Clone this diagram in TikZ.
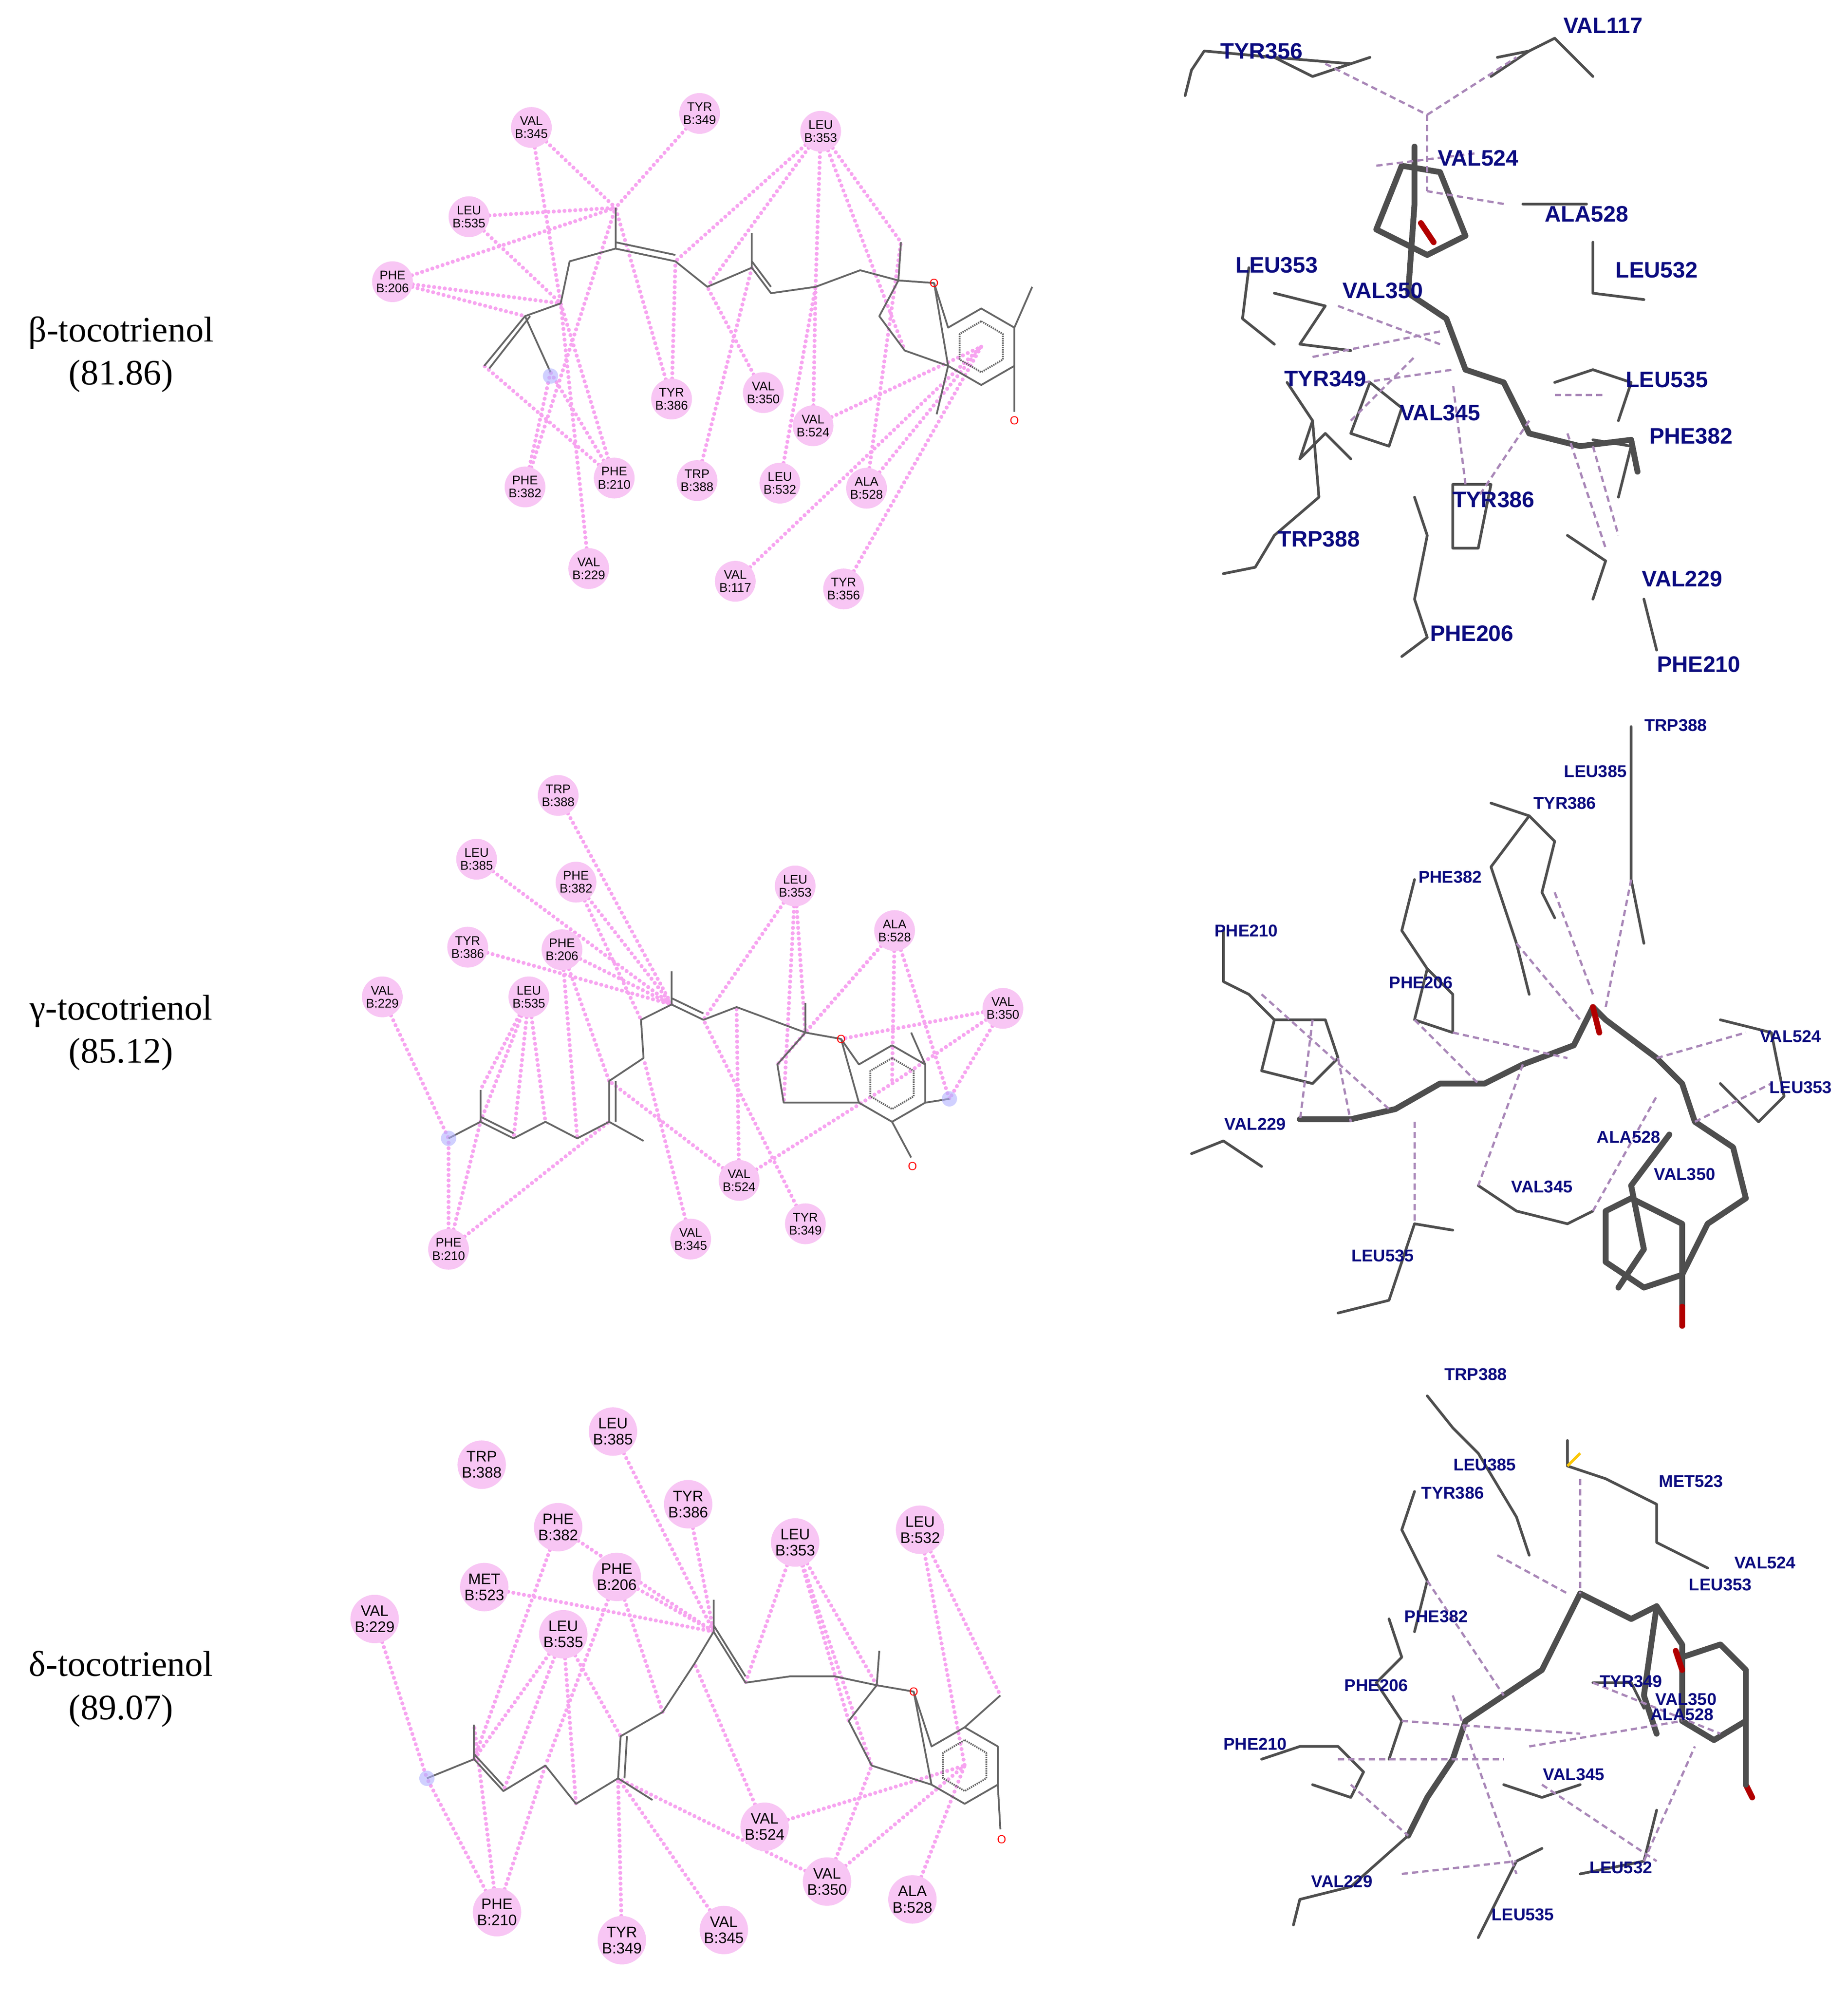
\documentclass[tikz,border=0pt]{standalone}
\usepackage{fontspec}
\usetikzlibrary{backgrounds}
\setmainfont{Liberation Serif}
\setsansfont{Liberation Sans}
\definecolor{rfill}{HTML}{F8C6F4}
\definecolor{rline}{HTML}{F7A4F0}
\definecolor{lblue}{HTML}{0B0B80}
\definecolor{stick}{HTML}{4E4E4E}
\definecolor{dpur}{HTML}{A987B8}
\tikzset{
 res/.style={circle,fill=rfill,inner sep=0pt,minimum size=32mm,align=center,font=\sffamily\fontsize{28}{29}\selectfont},
 resb/.style={res,minimum size=38mm,font=\sffamily\fontsize{34}{36}\selectfont},
 ia/.style={rline,line width=9pt,line cap=round,dash pattern=on 0pt off 12pt},
 lig/.style={gray!80!black,line width=4pt,line join=round},
 blab/.style={lblue,font=\sffamily\bfseries\fontsize{50}{50}\selectfont,inner sep=0pt},
 blabs/.style={lblue,font=\sffamily\bfseries\fontsize{38}{38}\selectfont,inner sep=0pt},
 stk/.style={stick,line width=13pt,line join=round,line cap=round},
 thn/.style={stick,line width=6pt,line join=round,line cap=round},
 dsh/.style={dpur,line width=5pt,dash pattern=on 14pt off 9pt},
 tname/.style={font=\fontsize{80}{96}\selectfont,align=center},
 oxy/.style={red,font=\sffamily\fontsize{26}{26}\selectfont,inner sep=0pt}
}
\newcommand\rsd[4]{\node[res] (#1) at (#2) {#3\\B:#4};}
\newcommand\rsdb[4]{\node[resb] (#1) at (#2) {#3\\B:#4};}
\begin{document}
\begin{tikzpicture}[x=1mm,y=-1mm]
\useasboundingbox (0,0) rectangle (1450,1565);
\begin{pgfonlayer}{background}\fill[white] (0,0) rectangle (1450,1565);\end{pgfonlayer}
% ---------- names ----------
\node[tname] (n1) at (95,278) {β-tocotrienol\\(81.86)};
\node[tname] (n2) at (95,810) {γ-tocotrienol\\(85.12)};
\node[tname] (n3) at (95,1325) {δ-tocotrienol\\(89.07)};

% ---------- panel 1 2D ----------
\foreach \n/\p in {a1/{380,287},a2/{412,248},a3/{432,292},a4/{440,238},a5/{447,205},a6/{483,195},a7/{483,163},a8/{530,205},a9/{555,225},a10/{590,210},a11/{590,183},a12/{605,230},a13/{640,225},a14/{675,212},a15/{705,220},a16/{707,190},a17/{733,222},a18/{690,248},a19/{710,275},a20/{770,272}}
 \coordinate (\n) at (\p);
\draw[lig] (a1)--(a2)--(a4)--(a5)--(a6)--(a8)--(a9)--(a10)--(a12)--(a13)--(a14)--(a15)--(a17);
\draw[lig] (a2)--(a3); \draw[lig] (a6)--(a7); \draw[lig] (a10)--(a11); \draw[lig] (a15)--(a16);
\draw[lig] ([xshift=4mm]a2)--([xshift=4mm,yshift=-2mm]a1);
\draw[lig] ([yshift=5mm]a6)--([yshift=5mm]a8);
\draw[lig] ([yshift=5mm]a10)--([yshift=5mm]a12);
\draw[lig] (a15)--(a18)--(a19)--(744,287);
\draw[lig] (a17)--(744,257)--(770,242)--(796,257)--(796,287)--(770,302)--(744,287)--cycle;
\draw[lig,densely dashed] (770,252)--(787,262)--(787,282)--(770,292)--(753,282)--(753,262)--cycle;
\draw[lig] (796,257)--(810,225); \draw[lig] (744,287)--(735,325); \draw[lig] (796,287)--(796,323);
\node[oxy] at (796,330) {O}; \node[oxy] at (733,222) {O};
\fill[blue!30,opacity=.6] (432,295) circle (6);
\rsd{b345}{417,100}{VAL}{345}\rsd{b349}{549,89}{TYR}{349}\rsd{b353}{644,103}{LEU}{353}
\rsd{b535}{368,170}{LEU}{535}\rsd{b206}{308,221}{PHE}{206}\rsd{b386}{527,313}{TYR}{386}
\rsd{b350}{599,308}{VAL}{350}\rsd{b524}{638,334}{VAL}{524}\rsd{b382}{412,382}{PHE}{382}
\rsd{b210}{482,375}{PHE}{210}\rsd{b388}{547,377}{TRP}{388}\rsd{b532}{612,379}{LEU}{532}
\rsd{b528}{680,383}{ALA}{528}\rsd{b229}{462,446}{VAL}{229}\rsd{b117}{577,456}{VAL}{117}
\rsd{b356}{662,462}{TYR}{356}
\begin{pgfonlayer}{background}
\foreach \r/\t in {b345/a7,b345/a4,b349/a7,b353/a8,b353/a9,b353/a16,b353/a13,b353/a19,b535/a4,b535/a7,b206/a7,b206/a4,b206/a2,b386/a8,b350/a9,b524/a13,b524/a20,b382/a7,b382/a3,b210/a4,b210/a1,b210/a3,b388/a10,b532/a13,b528/a20,b528/a16,b229/a4,b117/a20,b356/a20,b386/a7}
 \draw[ia] (\r)--(\t);
\end{pgfonlayer}

% ---------- panel 2 2D ----------
\foreach \n/\p in {c1/{352,893},c2/{377,880},c3/{377,855},c4/{403,893},c5/{428,880},c6/{453,893},c7/{478,880},c8/{478,848},c9/{505,830},c10/{503,800},c11/{527,788},c12/{527,762},c13/{552,800},c14/{578,790},c15/{632,810},c16/{632,787},c17/{660,815},c18/{610,835},c19/{615,865},c20/{700,850},c21/{745,862}}
 \coordinate (\n) at (\p);
\draw[lig] (c1)--(c2)--(c4)--(c5)--(c6)--(c7)--(c8)--(c9)--(c10)--(c11)--(c13)--(c14)--(c15)--(c17);
\draw[lig] (c2)--(c3); \draw[lig] (c11)--(c12); \draw[lig] (c7)--(505,895);
\draw[lig] ([yshift=4mm]c2)--([yshift=4mm]c4); \draw[lig] ([xshift=5mm]c7)--([xshift=5mm]c8);
\draw[lig] ([yshift=5mm]c11)--([yshift=5mm]c13);
\draw[lig] (c15)--(c18)--(c19)--(674,865);
\draw[lig] (c17)--(674,835)--(700,820)--(726,835)--(726,865)--(700,880)--(674,865)--cycle;
\draw[lig,densely dashed] (700,830)--(717,840)--(717,860)--(700,870)--(683,860)--(683,840)--cycle;
\draw[lig] (c15)--(c16); \draw[lig] (726,835)--(715,810); \draw[lig] (726,865)--(c21); \draw[lig] (700,880)--(715,908);
\node[oxy] at (716,915) {O}; \node[oxy] at (660,815) {O};
\fill[blue!30,opacity=.6] (c21) circle (6); \fill[blue!30,opacity=.6] (c1) circle (6);
\rsd{g388}{438,624}{TRP}{388}\rsd{g385}{374,674}{LEU}{385}\rsd{g382}{452,692}{PHE}{382}
\rsd{g353}{624,695}{LEU}{353}\rsd{g528}{702,730}{ALA}{528}\rsd{g386}{367,743}{TYR}{386}
\rsd{g206}{441,745}{PHE}{206}\rsd{g229}{300,782}{VAL}{229}\rsd{g535}{415,782}{LEU}{535}
\rsd{g350}{787,791}{VAL}{350}\rsd{g524}{580,926}{VAL}{524}\rsd{g349}{632,960}{TYR}{349}
\rsd{g345}{542,972}{VAL}{345}\rsd{g210}{352,980}{PHE}{210}
\begin{pgfonlayer}{background}
\foreach \r/\t in {g388/c11,g385/c11,g382/c11,g382/c10,g386/c11,g206/c11,g206/c6,g206/c8,g229/c1,g535/c2,g535/c4,g535/c5,g353/c15,g353/c13,g353/c19,g528/c20,g528/c15,g528/c18,g528/c21,g350/c20,g350/c17,g350/c21,g524/c8,g524/c14,g524/c20,g349/c13,g345/c9,g210/c1,g210/c2,g210/c7,g535/c3}
 \draw[ia] (\r)--(\t);
\end{pgfonlayer}

% ---------- panel 3 2D ----------
\foreach \n/\p in {d1/{335,1395},d2/{372,1380},d3/{372,1353},d4/{395,1405},d5/{428,1385},d6/{452,1415},d7/{485,1395},d8/{487,1362},d9/{520,1343},d10/{545,1305},d11/{560,1280},d12/{560,1255},d13/{585,1320},d14/{620,1315},d15/{655,1315},d16/{688,1322},d17/{690,1295},d18/{717,1327},d19/{666,1350},d20/{684,1385},d21/{757,1385},d22/{785,1330}}
 \coordinate (\n) at (\p);
\draw[lig] (d1)--(d2)--(d4)--(d5)--(d6)--(d7)--(d8)--(d9)--(d10)--(d11)--(d13)--(d14)--(d15)--(d16)--(d18);
\draw[lig] (d2)--(d3); \draw[lig] (d11)--(d12); \draw[lig] (d7)--(512,1412); \draw[lig] (d16)--(d17);
\draw[lig] ([yshift=4mm]d2)--([yshift=4mm]d4); \draw[lig] ([xshift=5mm]d7)--([xshift=5mm]d8);
\draw[lig] ([yshift=5mm]d11)--([yshift=5mm]d13);
\draw[lig] (d16)--(d19)--(d20)--(731,1400);
\draw[lig] (d18)--(731,1370)--(757,1355)--(783,1370)--(783,1400)--(757,1415)--(731,1400)--cycle;
\draw[lig,densely dashed] (757,1365)--(774,1375)--(774,1395)--(757,1405)--(740,1395)--(740,1375)--cycle;
\draw[lig] (757,1355)--(d22); \draw[lig] (783,1400)--(785,1435);
\node[oxy] at (786,1443) {O}; \node[oxy] at (717,1327) {O};
\fill[blue!30,opacity=.6] (d1) circle (6);
\rsdb{e385}{481,1123}{LEU}{385}\rsdb{e388}{378,1149}{TRP}{388}\rsdb{e386}{540,1180}{TYR}{386}
\rsdb{e353}{624,1210}{LEU}{353}\rsdb{e532}{722,1200}{LEU}{532}\rsdb{e382}{438,1198}{PHE}{382}
\rsdb{e206}{484,1237}{PHE}{206}\rsdb{e523}{380,1245}{MET}{523}\rsdb{e229}{294,1270}{VAL}{229}
\rsdb{e535}{442,1282}{LEU}{535}\rsdb{e524}{600,1433}{VAL}{524}\rsdb{e350}{649,1476}{VAL}{350}
\rsdb{e528}{716,1490}{ALA}{528}\rsdb{e210}{390,1500}{PHE}{210}\rsdb{e349}{488,1522}{TYR}{349}
\rsdb{e345}{568,1514}{VAL}{345}
\begin{pgfonlayer}{background}
\foreach \r/\t in {e385/d11,e386/d11,e382/d11,e382/d2,e206/d11,e206/d9,e523/d11,e229/d1,e535/d2,e535/d4,e535/d6,e535/d8,e353/d13,e353/d16,e353/d19,e353/d20,e532/d22,e532/d21,e524/d10,e524/d21,e350/d21,e350/d20,e350/d7,e528/d21,e210/d1,e210/d3,e210/d5,e349/d7,e345/d7,e206/d5}
 \draw[ia] (\r)--(\t);
\end{pgfonlayer}

% ---------- panel 1 3D ----------
\draw[thn] (935,55)--(945,40)--(1000,45)--(1060,50)--(1075,45); \draw[thn] (935,55)--(930,75);
\draw[thn] (1000,45)--(1030,60)--(1060,50);
\draw[thn] (1175,45)--(1200,40)--(1220,30)--(1250,60); \draw[thn] (1200,40)--(1170,60);
\draw[thn] (1195,160)--(1245,160); \draw[thn] (1250,190)--(1250,230)--(1290,235);
\draw[thn] (1000,230)--(1040,240)--(1020,270)--(1060,275);
\draw[thn] (980,210)--(975,250)--(1000,270);
\draw[thn] (1010,300)--(1030,330)--(1020,360)--(1040,340)--(1060,360);
\draw[thn] (1030,330)--(1035,390)--(1000,420)--(985,445)--(960,450);
\draw[thn] (1220,300)--(1250,290)--(1280,300)--(1270,330);
\draw[thn] (1250,345)--(1280,350)--(1270,390);
\draw[thn] (1230,420)--(1260,440)--(1250,470); \draw[thn] (1290,470)--(1300,510);
\draw[thn] (1110,390)--(1120,420)--(1110,470)--(1120,500)--(1100,515);
\draw[thn] (1140,380)--(1170,380)--(1160,430)--(1140,430)--cycle;
\draw[stk] (1080,180)--(1100,130)--(1130,135)--(1150,185)--(1120,200)--(1080,180);
\draw[stk] (1110,115)--(1110,160)--(1105,230)--(1135,250)--(1150,290)--(1180,300)--(1200,340)--(1240,350)--(1280,345)--(1285,370);
\draw[stk,red!70!black] (1115,175)--(1125,190);
\draw[thn] (1060,340)--(1075,300)--(1100,320)--(1090,350)--cycle;
\foreach \a/\b in {{1040,50}/{1120,90},{1120,90}/{1190,45},{1120,90}/{1120,150},{1050,240}/{1130,270},{1030,280}/{1130,260},{1070,300}/{1140,290},{1180,160}/{1120,150},{1230,340}/{1260,430},{1250,350}/{1270,420},{1150,380}/{1140,300},{1200,330}/{1160,390},{1060,330}/{1110,280},{1080,130}/{1160,120},{1220,310}/{1260,310}}
 \draw[dsh] (\a)--(\b);
\node[blab] (l1a) at (990,40) {TYR356}; \node[blab] (l1b) at (1258,20) {VAL117};
\node[blab] (l1c) at (1160,124) {VAL524}; \node[blab] (l1d) at (1245,168) {ALA528};
\node[blab] (l1e) at (1002,208) {LEU353}; \node[blab] (l1f) at (1300,212) {LEU532};
\node[blab] (l1g) at (1085,228) {VAL350}; \node[blab] (l1h) at (1040,297) {TYR349};
\node[blab] (l1i) at (1308,298) {LEU535}; \node[blab] (l1j) at (1130,324) {VAL345};
\node[blab] (l1k) at (1327,342) {PHE382}; \node[blab] (l1l) at (1172,392) {TYR386};
\node[blab] (l1m) at (1035,423) {TRP388}; \node[blab] (l1n) at (1320,454) {VAL229};
\node[blab] (l1o) at (1155,497) {PHE206}; \node[blab] (l1p) at (1333,521) {PHE210};

% ---------- panel 2 3D ----------
\draw[stk] (1020,878)--(1060,878)--(1095,870)--(1130,850)--(1165,850)--(1195,835)--(1235,820)--(1250,790)--(1260,800)--(1300,830)--(1320,850)--(1330,880)--(1360,900)--(1370,940)--(1340,960)--(1320,1000)--(1320,1040);
\draw[stk] (1310,890)--(1280,930)--(1290,980)--(1270,1010);
\draw[stk] (1280,940)--(1320,960)--(1320,1000)--(1290,1010)--(1260,990)--(1260,950)--cycle;
\draw[stk,red!70!black] (1320,1025)--(1320,1040); \draw[stk,red!70!black] (1250,790)--(1255,810);
\draw[thn] (960,730)--(960,770)--(980,780)--(1000,800)--(1040,800)--(1050,830)--(1030,850)--(990,840)--(1000,800);
\draw[thn] (1110,690)--(1100,730)--(1120,760)--(1110,800)--(1140,810)--(1140,780)--(1120,760);
\draw[thn] (1170,630)--(1200,640)--(1220,660)--(1210,700)--(1220,720);
\draw[thn] (1200,640)--(1170,680)--(1190,740)--(1200,780);
\draw[thn] (1280,570)--(1280,690)--(1290,740);
\draw[thn] (935,905)--(960,895)--(990,915); \draw[thn] (1050,1030)--(1090,1020)--(1110,960)--(1140,965);
\draw[thn] (1160,930)--(1190,950)--(1230,960)--(1250,950);
\draw[thn] (1350,800)--(1390,810)--(1400,860)--(1380,880)--(1350,850);
\foreach \a/\b in {{1030,800}/{1020,880},{1050,830}/{1060,880},{1110,800}/{1160,850},{1190,740}/{1240,800},{1220,700}/{1250,780},{1280,690}/{1260,790},{1140,810}/{1230,830},{1110,880}/{1110,960},{1195,835}/{1160,930},{1300,830}/{1370,810},{1250,950}/{1300,860},{1330,880}/{1390,850},{990,780}/{1090,870}}
 \draw[dsh] (\a)--(\b);
\node[blabs] at (1315,569) {TRP388}; \node[blabs] at (1252,605) {LEU385};
\node[blabs] at (1228,630) {TYR386}; \node[blabs] at (1138,688) {PHE382};
\node[blabs] at (978,730) {PHE210}; \node[blabs] at (1115,771) {PHE206};
\node[blabs] at (1405,813) {VAL524}; \node[blabs] at (1413,853) {LEU353};
\node[blabs] at (985,882) {VAL229}; \node[blabs] at (1278,892) {ALA528};
\node[blabs] at (1210,931) {VAL345}; \node[blabs] at (1322,921) {VAL350};
\node[blabs] at (1085,985) {LEU535};

% ---------- panel 3 3D ----------
\draw[stk] (1105,1440)--(1120,1410)--(1140,1380)--(1150,1350)--(1180,1330)--(1210,1310)--(1220,1290)--(1240,1250)--(1280,1270)--(1300,1260)--(1320,1290)--(1320,1300);
\draw[stk] (1320,1300)--(1350,1290)--(1370,1310)--(1370,1350)--(1345,1365)--(1320,1350)--cycle;
\draw[stk] (1300,1260)--(1290,1330)--(1300,1360);
\draw[stk,red!70!black] (1370,1400)--(1375,1410); \draw[stk] (1370,1350)--(1370,1400);
\draw[stk,red!70!black] (1315,1295)--(1320,1310);
\draw[thn] (1120,1095)--(1140,1120)--(1160,1140)--(1190,1190)--(1200,1220);
\draw[thn] (1110,1170)--(1100,1200)--(1120,1240)--(1110,1280);
\draw[thn] (1230,1130)--(1230,1150)--(1260,1160)--(1300,1180)--(1300,1210)--(1320,1220)--(1340,1230);
\draw[thn] (1090,1270)--(1100,1300)--(1080,1320)--(1100,1350)--(1090,1380);
\draw[thn] (990,1380)--(1020,1370)--(1050,1370)--(1070,1390)--(1060,1410)--(1030,1400);
\draw[thn] (1015,1510)--(1020,1490)--(1060,1480)--(1105,1440);
\draw[thn] (1160,1520)--(1170,1500)--(1190,1460)--(1210,1450);
\draw[thn] (1250,1320)--(1280,1320)--(1290,1340);
\draw[thn] (1240,1470)--(1290,1460)--(1300,1420);
\draw[thn] (1180,1400)--(1210,1410)--(1240,1400);
\draw[yellow!60!orange,line width=6pt] (1230,1150)--(1240,1140);
\foreach \a/\b in {{1240,1160}/{1240,1250},{1175,1220}/{1230,1250},{1100,1350}/{1240,1360},{1050,1380}/{1180,1380},{1060,1400}/{1105,1440},{1140,1330}/{1190,1470},{1290,1460}/{1330,1370},{1100,1470}/{1190,1460},{1250,1320}/{1350,1360},{1120,1240}/{1180,1330},{1200,1370}/{1320,1350},{1210,1400}/{1300,1460}}
 \draw[dsh] (\a)--(\b);
\node[blabs] at (1158,1078) {TRP388}; \node[blabs] at (1165,1149) {LEU385};
\node[blabs] at (1140,1171) {TYR386}; \node[blabs] at (1327,1162) {MET523};
\node[blabs] at (1385,1226) {VAL524}; \node[blabs] at (1350,1243) {LEU353};
\node[blabs] at (1127,1268) {PHE382}; \node[blabs] at (1280,1319) {TYR349};
\node[blabs] at (1080,1322) {PHE206}; \node[blabs] at (1323,1333) {VAL350};
\node[blabs] at (1320,1345) {ALA528}; \node[blabs] at (985,1368) {PHE210};
\node[blabs] at (1235,1392) {VAL345}; \node[blabs] at (1272,1465) {LEU532};
\node[blabs] at (1053,1476) {VAL229}; \node[blabs] at (1195,1502) {LEU535};
\end{tikzpicture}
\end{document}
